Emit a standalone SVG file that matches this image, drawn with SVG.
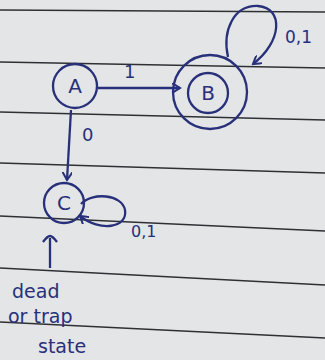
<svg xmlns="http://www.w3.org/2000/svg" width="325" height="360" viewBox="0 0 325 360">
<defs>
<marker id="ah" markerWidth="10" markerHeight="10" refX="8" refY="5" orient="auto" markerUnits="userSpaceOnUse">
<path d="M0,0 L8,5 L0,10" fill="none" stroke="#28307a" stroke-width="2"/>
</marker>
</defs>
<style>
.ruled{stroke:#2e3034;stroke-width:1.6;fill:none}
.ink{stroke:#28307a;stroke-width:2.3;fill:none}
.t{font-family:"DejaVu Sans",sans-serif;fill:#28307a}
</style>
<rect width="325" height="360" fill="#e3e5e7"/>
<g id="paper-lines">
<path class="ruled" d="M0,10 L325,12"/>
<path class="ruled" d="M0,62 L325,68"/>
<path class="ruled" d="M0,112 L325,120"/>
<path class="ruled" d="M0,163 L325,173"/>
<path class="ruled" d="M0,216 L325,231"/>
<path class="ruled" d="M0,268 L325,285"/>
<path class="ruled" d="M0,322 L325,338"/>
</g>
<g id="connectors">
<path class="ink" d="M98,88 L180,88" marker-end="url(#ah)"/>
<path class="ink" d="M71,110 L67,180" marker-end="url(#ah)"/>
<path class="ink" d="M228,57 C222,30 234,5 258,6 C284,8 282,42 253,64" marker-end="url(#ah)"/>
<path class="ink" d="M81,204 C92,192 122,194 125,210 C128,228 100,232 80,216" marker-end="url(#ah)"/>
<path class="ink" d="M50,268 L50,238"/>
<path class="ink" d="M43,242 C46,238 48,236 50,236 C52,236 54,238 57,242"/>
<text class="t" x="124" y="78" font-size="18">1</text>
<text class="t" x="82" y="141" font-size="18">0</text>
<text class="t" x="285" y="43" font-size="17">0,1</text>
<text class="t" x="131" y="237" font-size="16">0,1</text>
</g>
<g id="A">
<circle class="ink" cx="75" cy="86" r="22"/>
<text class="t" x="75" y="93" font-size="20" text-anchor="middle">A</text>
</g>
<g id="B">
<circle class="ink" cx="210" cy="92" r="37"/>
<circle class="ink" cx="208" cy="93" r="20"/>
<text class="t" x="208" y="100" font-size="20" text-anchor="middle">B</text>
</g>
<g id="C">
<circle class="ink" cx="64" cy="203" r="20"/>
<text class="t" x="64" y="210" font-size="20" text-anchor="middle">C</text>
</g>
<g id="note">
<text class="t" x="12" y="298" font-size="19">dead</text>
<text class="t" x="8" y="323" font-size="19">or trap</text>
<text class="t" x="38" y="353" font-size="19">state</text>
</g>
</svg>
